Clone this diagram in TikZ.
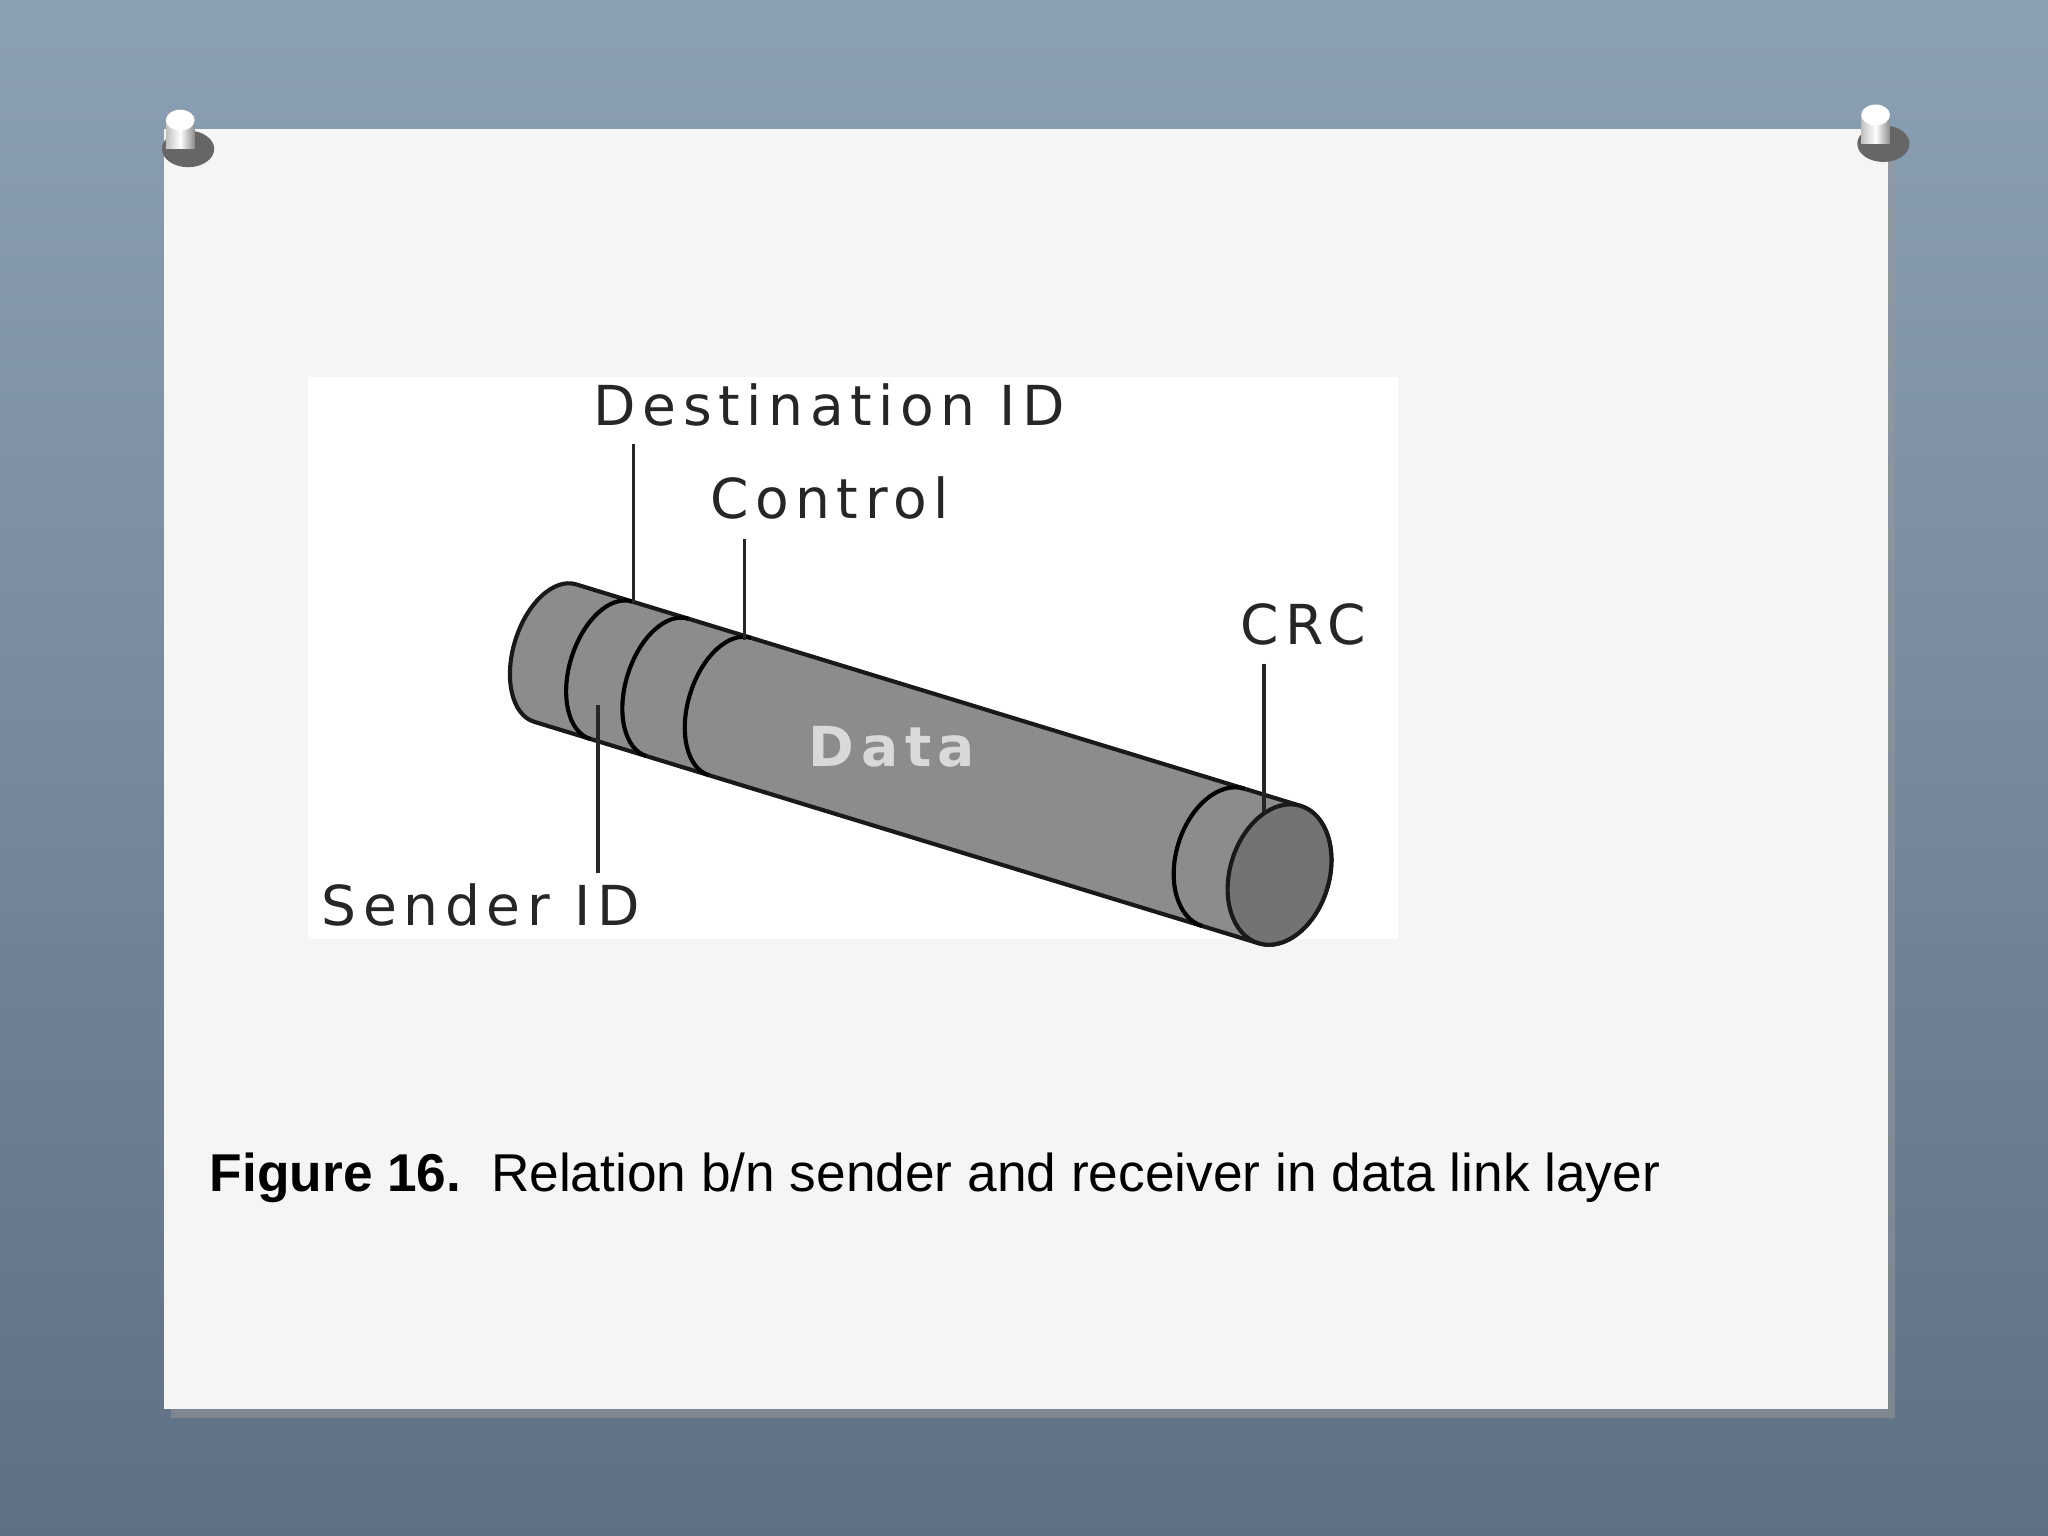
\documentclass[tikz,border=0pt]{standalone}
\usepackage{fontspec}
\setmainfont{Liberation Sans}
\newfontfamily\lblfont[LetterSpace=12]{DejaVu Sans}
\definecolor{bgtop}{RGB}{140,160,180}
\definecolor{bgbot}{RGB}{95,112,132}
\begin{document}
\begin{tikzpicture}[x=0.1mm,y=-0.1mm,
  lbl/.style={font=\lblfont\fontsize{12}{14}\selectfont,text=black!85,inner sep=0},
  lead/.style={line width=0.8pt,black!85},
  cyl/.style={draw=black!90,line width=0.9pt,fill=black!45}]
\useasboundingbox (0,0) rectangle (1568,1176);
\shade[top color=bgtop, bottom color=bgbot] (0,0) rectangle (1568,1176);
\fill[black!40,opacity=0.5] (131,104) rectangle (1451,1086);
\node[fill=white!96!black,minimum width=132mm,minimum height=98mm,inner sep=0,anchor=north west] (panel) at (125,98) {};
\foreach \px/\py in {138/92,1436/88}{
  \fill[black!60] (\px+6,\py+22) ellipse (20 and 14);
  \shade[left color=gray!50,right color=gray!90,middle color=white] (\px-11,\py) rectangle (\px+11,\py+22);
  \fill[white] (\px,\py) ellipse (11 and 8);
}
\node[fill=white,minimum width=83.5mm,minimum height=43mm,inner sep=0,anchor=north west] (fig) at (235,288) {};
\begin{scope}[shift={(42.5mm,-50mm)},rotate=-17,x=0.1mm,y=0.1mm]
  \draw[cyl] (0,55) -- (580,55) arc(90:-90:38 and 55) -- (0,-55) arc(270:90:32 and 55) -- cycle;
  \draw[cyl,fill=black!55] (580,0) ellipse (38 and 55);
  \foreach \b in {45,90,140}{\draw[line width=0.9pt] (\b,55) arc(90:270:32 and 55);}
  \draw[line width=0.9pt] (535,55) arc(90:270:36 and 55);
\end{scope}
\node[font=\lblfont\fontsize{12}{14}\selectfont\bfseries,text=white!85!black] (data) at (683,572) {Data};
\node[lbl] (dest) at (635,310) {Destination ID};
\node[lbl] (ctrl) at (635,381) {Control};
\node[lbl] (crc) at (998,478) {CRC};
\node[lbl] (send) at (368,693) {Sender ID};
\coordinate (d1) at (485,340); \coordinate (d2) at (485,462);
\coordinate (c1) at (570,413); \coordinate (c2) at (570,490);
\coordinate (r1) at (968,508); \coordinate (r2) at (968,622);
\coordinate (s1) at (458,540); \coordinate (s2) at (458,668);
\draw[lead] (d1) -- (d2); \draw[lead] (c1) -- (c2);
\draw[lead] (r1) -- (r2); \draw[lead] (s1) -- (s2);
\node[anchor=west,inner sep=0,font=\fontsize{11.6}{13}\selectfont] (cap) at (160,902) {\textbf{Figure 16.}\ \ Relation b/n sender and receiver in data link layer};
\end{tikzpicture}
\end{document}
